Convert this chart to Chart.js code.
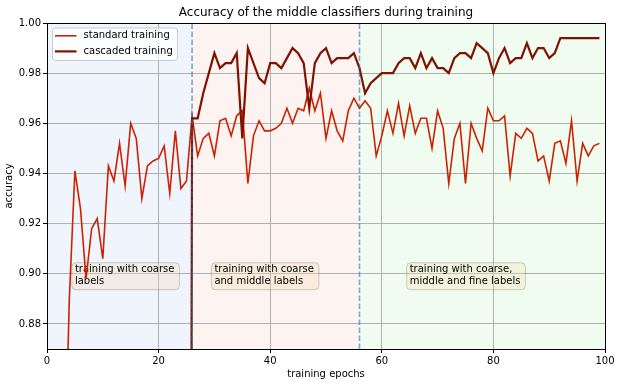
<!DOCTYPE html>
<html>
<head>
<meta charset="utf-8">
<script src="https://cdn.jsdelivr.net/npm/chart.js@4.4.1/dist/chart.umd.min.js"></script>
<style>
  html, body { margin: 0; padding: 0; background: #fff; }
</style>
</head>
<body>
<canvas id="accChart" width="617" height="385"></canvas>
<script>
// tick labels
const xTicks = [0, 20, 40, 60, 80, 100];
const yTicks = [0.88, 0.90, 0.92, 0.94, 0.96, 0.98, 1.00];

// standard training, one value per epoch from epoch 0
const standardAcc = [
  0.42, 0.66, 0.75, 0.803, 0.890, 0.941, 0.926, 0.898, 0.918, 0.922,
  0.906, 0.943, 0.937, 0.952, 0.935, 0.960, 0.954, 0.930, 0.943, 0.945,
  0.946, 0.951, 0.932, 0.957, 0.934, 0.937, 0.963, 0.947, 0.954, 0.956,
  0.947, 0.961, 0.962, 0.955, 0.963, 0.965, 0.936, 0.955, 0.961, 0.957,
  0.957, 0.958, 0.960, 0.966, 0.960, 0.966, 0.965, 0.974, 0.965, 0.972,
  0.954, 0.965, 0.957, 0.953, 0.965, 0.970, 0.966, 0.969, 0.966, 0.947,
  0.955, 0.965, 0.956, 0.968, 0.955, 0.967, 0.956, 0.962, 0.962, 0.950,
  0.965, 0.958, 0.936, 0.954, 0.960, 0.936, 0.960, 0.954, 0.949, 0.966,
  0.961, 0.961, 0.963, 0.939, 0.956, 0.954, 0.958, 0.956, 0.945, 0.947,
  0.937, 0.952, 0.953, 0.944, 0.961, 0.937, 0.952, 0.947, 0.951, 0.952
];

// cascaded training, starts at epoch 25
const cascadedStart = 25;
const cascadedAcc = [
  0,
  0.962, 0.962, 0.972, 0.980, 0.988, 0.982, 0.984, 0.984, 0.988, 0.954,
  0.990, 0.984, 0.978, 0.976, 0.984, 0.984, 0.982, 0.986, 0.990, 0.988,
  0.984, 0.966, 0.984, 0.988, 0.990, 0.984, 0.986, 0.986, 0.986, 0.988,
  0.982, 0.972, 0.976, 0.978, 0.980, 0.980, 0.980, 0.984, 0.986, 0.986,
  0.982, 0.988, 0.982, 0.986, 0.982, 0.982, 0.980, 0.986, 0.988, 0.988,
  0.986, 0.992, 0.990, 0.988, 0.980, 0.986, 0.990, 0.984, 0.986, 0.986,
  0.992, 0.986, 0.990, 0.990, 0.986, 0.988, 0.994, 0.994, 0.994, 0.994,
  0.994, 0.994, 0.994, 0.994
];

// training phases (epoch boundaries) and their notes
const phaseEdges = [0, 26, 56, 100];
const phaseColors = ['#f0f4fd', '#fdf3f0', '#f0fcf0'];
const phaseNotes = [
  { epoch: 5, lines: ['training with coarse', 'labels'] },
  { epoch: 30, lines: ['training with coarse', 'and middle labels'] },
  { epoch: 65, lines: ['training with coarse,', 'middle and fine labels'] }
];
const noteTop = 0.9044;

const FONT = 'DejaVu Sans';
const STD_COLOR = '#cc2200';
const CAS_COLOR = '#7f1200';

function roundRect(ctx, x, y, w, h, r) {
  ctx.beginPath();
  ctx.moveTo(x + r, y);
  ctx.lineTo(x + w - r, y);
  ctx.arcTo(x + w, y, x + w, y + r, r);
  ctx.lineTo(x + w, y + h - r);
  ctx.arcTo(x + w, y + h, x + w - r, y + h, r);
  ctx.lineTo(x + r, y + h);
  ctx.arcTo(x, y + h, x, y + h - r, r);
  ctx.lineTo(x, y + r);
  ctx.arcTo(x, y, x + r, y, r);
  ctx.closePath();
}

const decor = {
  id: 'decor',
  beforeDraw(chart) {
    const { ctx, chartArea: a, scales: { x } } = chart;
    ctx.save();
    ctx.fillStyle = '#fff';
    ctx.fillRect(0, 0, chart.width, chart.height);
    for (let i = 0; i < phaseColors.length; i++) {
      const x0 = x.getPixelForValue(phaseEdges[i]);
      const x1 = x.getPixelForValue(phaseEdges[i + 1]);
      ctx.fillStyle = phaseColors[i];
      ctx.fillRect(x0, a.top, x1 - x0, a.bottom - a.top);
    }
    ctx.restore();
  },
  beforeDatasetsDraw(chart) {
    const { ctx, scales: { x, y } } = chart;
    ctx.save();
    ctx.font = '10px "' + FONT + '"';
    const top = y.getPixelForValue(noteTop);
    phaseNotes.forEach(n => {
      const tx = x.getPixelForValue(n.epoch);
      const w = Math.max(...n.lines.map(l => ctx.measureText(l).width));
      roundRect(ctx, tx - 3, top, w + 8, 27, 4);
      ctx.fillStyle = 'rgba(245,222,179,0.3)';
      ctx.fill();
      ctx.strokeStyle = 'rgba(0,0,0,0.18)';
      ctx.lineWidth = 1;
      ctx.stroke();
      ctx.fillStyle = '#000';
      ctx.textBaseline = 'middle';
      n.lines.forEach((l, i) => ctx.fillText(l, tx, top + 7 + i * 11.6));
    });
    ctx.restore();
  },
  afterDatasetsDraw(chart) {
    const { ctx, chartArea: a, scales: { x } } = chart;
    ctx.save();
    // phase switch lines
    ctx.strokeStyle = 'rgba(31,119,180,0.6)';
    ctx.lineWidth = 1.6;
    ctx.setLineDash([5.5, 2.5]);
    phaseEdges.slice(1, -1).forEach(e => {
      const px = x.getPixelForValue(e);
      ctx.beginPath();
      ctx.moveTo(px, a.bottom);
      ctx.lineTo(px, a.top);
      ctx.stroke();
    });
    ctx.setLineDash([]);
    // frame
    ctx.strokeStyle = '#000';
    ctx.lineWidth = 1;
    ctx.strokeRect(Math.round(a.left) + 0.5, Math.round(a.top) + 0.5,
      Math.round(a.right - a.left), Math.round(a.bottom - a.top));
    // legend
    const lx = a.left + 5.5, ly = a.top + 5;
    roundRect(ctx, lx, ly, 125, 32.5, 3);
    ctx.fillStyle = 'rgba(255,255,255,0.8)';
    ctx.fill();
    ctx.strokeStyle = '#cccccc';
    ctx.stroke();
    ctx.font = '10px "' + FONT + '"';
    ctx.textBaseline = 'middle';
    chart.data.datasets.forEach((ds, i) => {
      const cy = ly + 7.8 + i * 15.6;
      ctx.strokeStyle = ds.borderColor;
      ctx.lineWidth = ds.borderWidth;
      ctx.beginPath();
      ctx.moveTo(lx + 2.5, cy);
      ctx.lineTo(lx + 24, cy);
      ctx.stroke();
      ctx.fillStyle = '#000';
      ctx.fillText(ds.label, lx + 31, cy);
    });
    ctx.restore();
  },
  afterDraw(chart) {
    const { ctx, chartArea: a } = chart;
    const cx = (a.left + a.right) / 2;
    ctx.save();
    ctx.fillStyle = '#000';
    ctx.textAlign = 'center';
    ctx.textBaseline = 'middle';
    ctx.font = '12px "' + FONT + '"';
    ctx.fillText('Accuracy of the middle classifiers during training', cx, 13);
    ctx.font = '10px "' + FONT + '"';
    ctx.fillText('training epochs', cx, 374);
    ctx.translate(9, (a.top + a.bottom) / 2);
    ctx.rotate(-Math.PI / 2);
    ctx.fillText('accuracy', 0, 0);
    ctx.restore();
  }
};

const ctx = document.getElementById('accChart').getContext('2d');
new Chart(ctx, {
  type: 'line',
  data: {
    datasets: [
      {
        label: 'standard training',
        data: standardAcc.map((v, i) => ({ x: i, y: v })),
        borderColor: STD_COLOR,
        borderWidth: 1.6,
        order: 1
      },
      {
        label: 'cascaded training',
        data: cascadedAcc.map((v, i) => ({ x: cascadedStart + i, y: v })),
        borderColor: CAS_COLOR,
        borderWidth: 2.2,
        order: 0
      }
    ]
  },
  options: {
    responsive: false,
    devicePixelRatio: 1,
    animation: false,
    events: [],
    layout: { padding: { top: 23, right: 12, left: 0, bottom: 0 } },
    elements: { point: { radius: 0 }, line: { tension: 0, fill: false } },
    datasets: { line: { clip: 0 } },
    plugins: { legend: { display: false }, title: { display: false }, tooltip: { enabled: false } },
    scales: {
      x: {
        type: 'linear',
        min: 0,
        max: 100,
        afterBuildTicks: s => { s.ticks = xTicks.map(v => ({ value: v })); },
        afterFit: s => { s.height = 36; },
        ticks: { font: { family: FONT, size: 10 }, color: '#000', padding: 2, maxRotation: 0 },
        grid: { color: '#b0b0b0', lineWidth: 1, tickLength: 4, tickColor: '#000' },
        border: { display: false }
      },
      y: {
        min: 0.87,
        max: 1.0,
        afterBuildTicks: s => { s.ticks = yTicks.map(v => ({ value: v })); },
        afterFit: s => { s.width = 47; },
        ticks: { font: { family: FONT, size: 10 }, color: '#000', padding: 2, callback: v => v.toFixed(2) },
        grid: { color: '#b0b0b0', lineWidth: 1, tickLength: 4, tickColor: '#000' },
        border: { display: false }
      }
    }
  },
  plugins: [decor]
});
</script>
</body>
</html>
